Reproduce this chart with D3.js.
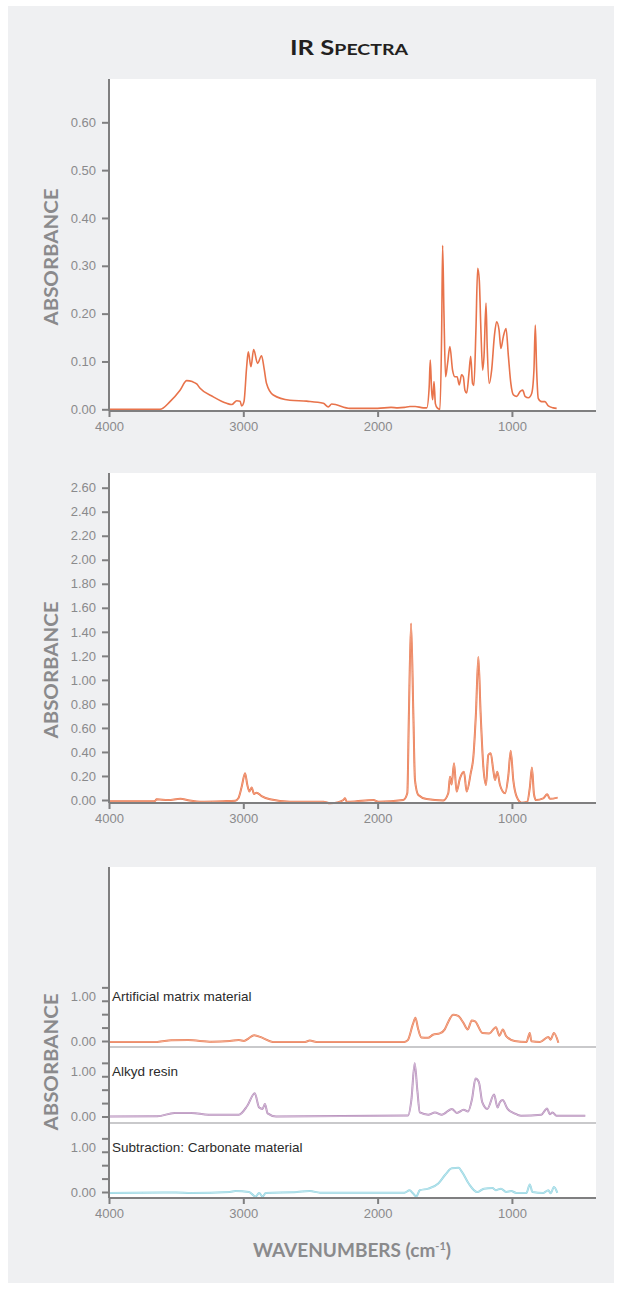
<!DOCTYPE html>
<html>
<head>
<meta charset="utf-8">
<script src="https://cdn.jsdelivr.net/npm/d3@7/dist/d3.min.js"></script>
<style>
  html, body { margin: 0; padding: 0; background: #ffffff; }
  svg { display: block; }
</style>
</head>
<body>
<svg id="chart" width="623" height="1289"></svg>
<script>
// ---------------- DATA ----------------
const wavenumberTicks = [4000, 3000, 2000, 1000];
const panel1Ticks = [0, 0.1, 0.2, 0.3, 0.4, 0.5, 0.6];
const panel2Ticks = [0, 0.2, 0.4, 0.6, 0.8, 1.0, 1.2, 1.4, 1.6, 1.8, 2.0, 2.2, 2.4, 2.6];
const stackMinorTicks = [0, 0.3, 0.6, 0.9, 1.2];
const stackLabelTicks = [0, 1];
const stackNames = ["Artificial matrix material", "Alkyd resin", "Subtraction: Carbonate material"];

// [wavenumber (cm-1), absorbance]
const spectrumTop = [
  [4000,0],[3620,0],[3546,0.016],[3471,0.040],[3421,0.060],[3380,0.058],[3347,0.053],[3322,0.044],
  [3223,0.026],[3124,0.0125],[3086,0.010],[3049,0.018],[3024,0.017],[3012,0.007],[2995,0.016],
  [2975,0.089],[2963,0.120],[2943,0.089],[2923,0.125],[2894,0.096],[2864,0.112],[2845,0.085],
  [2827,0.054],[2777,0.030],[2653,0.019],[2528,0.017],[2404,0.0125],[2367,0.005],[2342,0.011],
  [2206,0.002],[2000,0.002],[1900,0.004],[1850,0.003],[1800,0.004],[1760,0.006],[1720,0.006],
  [1660,0.003],[1634,0.003],[1616,0.047],[1608,0.103],[1598,0.040],[1590,0.020],[1580,0.058],
  [1570,0.012],[1556,0.003],[1536,0.000],[1523,0.166],[1516,0.343],[1506,0.200],[1494,0.068],
  [1479,0.096],[1462,0.131],[1442,0.082],[1424,0.068],[1408,0.068],[1392,0.051],[1375,0.072],
  [1362,0.068],[1350,0.040],[1337,0.034],[1320,0.075],[1307,0.111],[1293,0.054],[1283,0.050],
  [1268,0.166],[1255,0.295],[1243,0.270],[1231,0.166],[1218,0.082],[1208,0.110],[1193,0.222],
  [1184,0.130],[1169,0.054],[1151,0.082],[1131,0.152],[1114,0.183],[1096,0.166],[1082,0.127],
  [1064,0.152],[1044,0.169],[1026,0.110],[1008,0.054],[989,0.030],[964,0.027],[940,0.037],
  [920,0.040],[902,0.027],[877,0.024],[853,0.033],[836,0.082],[826,0.176],[816,0.082],
  [804,0.023],[779,0.016],[754,0.016],[729,0.007],[692,0.003],[667,0.002]
];

const spectrumMiddle = [
  [4000,-0.01],[3660,-0.01],[3645,0.006],[3560,0.0],[3469,0.01],[3400,-0.004],[3322,-0.014],
  [3150,-0.01],[3060,-0.006],[3037,0.014],[3012,0.11],[2987,0.222],[2970,0.125],[2955,0.07],
  [2938,0.105],[2920,0.05],[2901,0.061],[2864,0.033],[2801,0.006],[2652,-0.014],[2404,-0.014],
  [2354,-0.028],[2300,-0.02],[2255,0.0],[2243,0.014],[2230,-0.014],[2205,-0.014],[2031,0.0],
  [1994,-0.014],[1809,0.0],[1779,0.056],[1767,0.72],[1751,1.47],[1734,0.72],[1722,0.167],
  [1697,0.042],[1635,0.008],[1511,-0.004],[1474,0.056],[1461,0.194],[1449,0.13],[1431,0.305],
  [1412,0.07],[1387,0.18],[1357,0.236],[1337,0.07],[1307,0.222],[1287,0.36],[1268,0.72],
  [1250,1.19],[1233,0.72],[1213,0.28],[1193,0.125],[1176,0.375],[1158,0.39],[1139,0.25],
  [1126,0.167],[1109,0.236],[1089,0.125],[1051,0.056],[1027,0.2],[1009,0.41],[990,0.167],
  [965,0.028],[928,-0.022],[886,-0.014],[866,0.11],[851,0.27],[836,0.05],[822,0.0],
  [767,0.014],[737,0.047],[717,0.01],[660,0.02]
];

const spectrumMatrix = [
  [4000,-0.02],[3640,-0.02],[3537,0.015],[3411,0.02],[3235,-0.015],[3100,0],[3033,0.02],
  [2995,0.0],[2960,0.06],[2920,0.13],[2857,0.07],[2782,-0.02],[2540,-0.02],[2505,0.01],
  [2455,-0.02],[1800,-0.02],[1775,0.02],[1738,0.37],[1718,0.52],[1700,0.29],[1675,0.08],
  [1625,0.07],[1588,0.14],[1537,0.17],[1500,0.26],[1475,0.42],[1437,0.59],[1400,0.56],
  [1362,0.41],[1329,0.26],[1299,0.46],[1274,0.44],[1219,0.18],[1169,0.17],[1119,0.31],
  [1093,0.12],[1068,0.26],[1043,0.11],[980,0.0],[892,-0.02],[867,0.18],[855,-0.005],
  [792,-0.02],[729,0.09],[712,0.03],[687,0.18],[654,-0.04]
];

const spectrumAlkyd = [
  [4000,0],[3640,0.005],[3512,0.08],[3386,0.08],[3260,0.04],[3033,0.04],[2970,0.24],
  [2915,0.52],[2882,0.2],[2857,0.17],[2839,0.28],[2819,0.07],[2756,0.0],[1774,0.02],
  [1749,0.36],[1724,1.19],[1704,0.58],[1686,0.09],[1623,0.04],[1573,0.09],[1522,0.04],
  [1447,0.17],[1410,0.08],[1359,0.15],[1327,0.11],[1297,0.39],[1271,0.85],[1246,0.77],
  [1221,0.32],[1183,0.17],[1133,0.49],[1107,0.2],[1090,0.32],[1070,0.37],[1032,0.17],
  [982,0.07],[932,0.015],[781,0.04],[738,0.18],[718,0.05],[698,0.09],[668,0.015],[454,0.015]
];

const spectrumCarbonate = [
  [4000,-0.02],[3500,-0.01],[3386,-0.02],[3100,0.0],[3059,0.02],[2958,0.0],[2908,-0.1],
  [2882,-0.02],[2857,-0.1],[2832,-0.02],[2600,0.0],[2505,0.02],[2429,-0.015],[1800,-0.015],
  [1762,0.04],[1737,-0.03],[1712,-0.1],[1686,0.04],[1623,0.075],[1548,0.19],[1498,0.38],
  [1447,0.53],[1397,0.54],[1372,0.45],[1322,0.19],[1259,0.0],[1208,0.075],[1145,0.09],
  [1120,0.04],[1082,0.075],[1043,0.0],[1005,0.02],[968,-0.02],[892,-0.02],[867,0.17],
  [847,0.0],[766,-0.02],[729,0.04],[712,-0.03],[687,0.11],[662,-0.02]
];

// ---------------- DRAWING ----------------
const svg = d3.select("#chart");
const AX = "#7f7f80", TXT = "#8a8a8c";
const tickFont = "'Liberation Sans', Arial, Helvetica, sans-serif";
const titleFont = "Lato, 'Open Sans', sans-serif";

svg.append("rect").attr("x", 8).attr("y", 6).attr("width", 606).attr("height", 1277).attr("fill", "#eff0f2");

const left = 109, right = 596;
const x = d3.scaleLinear().domain([4000, 374]).range([left, right]);

svg.append("text").attr("x", 349).attr("y", 55).attr("text-anchor", "middle")
  .attr("font-family", titleFont).attr("font-weight", 700).attr("fill", "#231f20")
  .attr("textLength", 118).attr("lengthAdjust", "spacingAndGlyphs")
  .call(t => {
    t.append("tspan").attr("font-size", 21).text("IR S");
    t.append("tspan").attr("font-size", 16).text("PECTRA");
  });

function yTitle(cy) {
  svg.append("text").attr("transform", `translate(50,${cy}) rotate(-90)`)
    .attr("text-anchor", "middle").attr("dominant-baseline", "central")
    .attr("font-family", titleFont).attr("font-weight", 700).attr("font-size", 19)
    .attr("fill", TXT).attr("textLength", 137).attr("lengthAdjust", "spacingAndGlyphs")
    .text("ABSORBANCE");
}

function styleAxis(g) {
  g.select(".domain").remove();
  g.selectAll(".tick line").attr("stroke", AX).attr("stroke-width", 2);
  g.selectAll(".tick text").attr("fill", TXT).attr("font-family", tickFont).attr("font-size", 13);
}

function frame(top, bottom) {
  svg.append("rect").attr("x", left + 1).attr("y", top).attr("width", right - left - 1)
    .attr("height", bottom - top).attr("fill", "#ffffff");
}

function xAxis(yPos) {
  const g = svg.append("g").attr("transform", `translate(0,${yPos})`)
    .call(d3.axisBottom(x).tickValues(wavenumberTicks).tickSize(6).tickPadding(5).tickFormat(d3.format("d")));
  styleAxis(g);
  svg.append("line").attr("x1", left).attr("x2", right).attr("y1", yPos).attr("y2", yPos)
    .attr("stroke", AX).attr("stroke-width", 2);
}

function yAxisLine(top, bottom) {
  svg.append("line").attr("x1", left).attr("x2", left).attr("y1", top).attr("y2", bottom)
    .attr("stroke", AX).attr("stroke-width", 2);
}

function drawLine(data, y, color, w, inner) {
  const gen = d3.line().x(d => x(d[0])).y(d => y(d[1])).curve(d3.curveMonotoneX);
  svg.append("path").datum(data)
    .attr("fill", "none").attr("stroke", color).attr("stroke-width", w)
    .attr("stroke-linejoin", "round").attr("d", gen);
  if (inner) {
    svg.append("path").datum(data)
      .attr("fill", "none").attr("stroke", inner).attr("stroke-width", w * 0.4)
      .attr("stroke-linejoin", "round").attr("d", gen);
  }
}

// Panel 1
{
  const top = 79, bottom = 411;
  frame(top, bottom);
  const y = d3.scaleLinear().domain([0, 0.6]).range([409.3, 122.3]);
  const g = svg.append("g").attr("transform", `translate(${left},0)`)
    .call(d3.axisLeft(y).tickValues(panel1Ticks).tickSize(7).tickPadding(6).tickFormat(d3.format(".2f")));
  styleAxis(g);
  drawLine(spectrumTop, y, "#e8734b", 1.6, null);
  xAxis(bottom);
  yAxisLine(top, bottom);
  yTitle(257);
}

// Panel 2
{
  const top = 473, bottom = 803;
  frame(top, bottom);
  const y = d3.scaleLinear().domain([0, 2.6]).range([800, 487.7]);
  const g = svg.append("g").attr("transform", `translate(${left},0)`)
    .call(d3.axisLeft(y).tickValues(panel2Ticks).tickSize(7).tickPadding(6).tickFormat(d3.format(".2f")));
  styleAxis(g);
  drawLine(spectrumMiddle, y, "#e9774f", 2, "#f4ab8e");
  xAxis(bottom);
  yAxisLine(top, bottom);
  yTitle(670);
}

// Panel 3 (stacked)
{
  const top = 867, bottom = 1198;
  frame(top, bottom);
  const zeros = [1041, 1116.5, 1192];
  const seps = [1047, 1123];
  const series = [spectrumMatrix, spectrumAlkyd, spectrumCarbonate];
  const colors = ["#e97d55", "#b48cb9", "#93d4e1"];
  const inners = ["#f5b8a0", "#dcc6de", "#c9ebf1"];
  seps.forEach(s => svg.append("line").attr("x1", left).attr("x2", right).attr("y1", s).attr("y2", s)
    .attr("stroke", "#c9c9cb").attr("stroke-width", 2));
  zeros.forEach((z, i) => {
    const y = d3.scaleLinear().domain([0, 1]).range([z, z - 44.7]);
    const gm = svg.append("g").attr("transform", `translate(${left},0)`)
      .call(d3.axisLeft(y).tickValues(stackMinorTicks).tickSize(7).tickFormat(""));
    styleAxis(gm);
    const gl = svg.append("g").attr("transform", `translate(${left},0)`)
      .call(d3.axisLeft(y).tickValues(stackLabelTicks).tickSize(0).tickPadding(13).tickFormat(d3.format(".2f")));
    styleAxis(gl);
    drawLine(series[i], y, colors[i], 2, inners[i]);
    svg.append("text").attr("x", 112).attr("y", y(1)).attr("dominant-baseline", "central")
      .attr("font-family", tickFont).attr("font-size", 13.5).attr("fill", "#2b2b2b")
      .text(stackNames[i]);
  });
  xAxis(bottom);
  yAxisLine(top, bottom);
  yTitle(1062);

  svg.append("text").attr("x", 352).attr("y", 1257).attr("text-anchor", "middle")
    .attr("font-family", titleFont).attr("font-weight", 700).attr("font-size", 19).attr("fill", TXT)
    .call(t => {
      t.append("tspan").text("WAVENUMBERS (cm");
      t.append("tspan").attr("font-size", 11).attr("dy", -7).text("-1");
      t.append("tspan").attr("dy", 7).text(")");
    });
}
</script>
</body>
</html>
